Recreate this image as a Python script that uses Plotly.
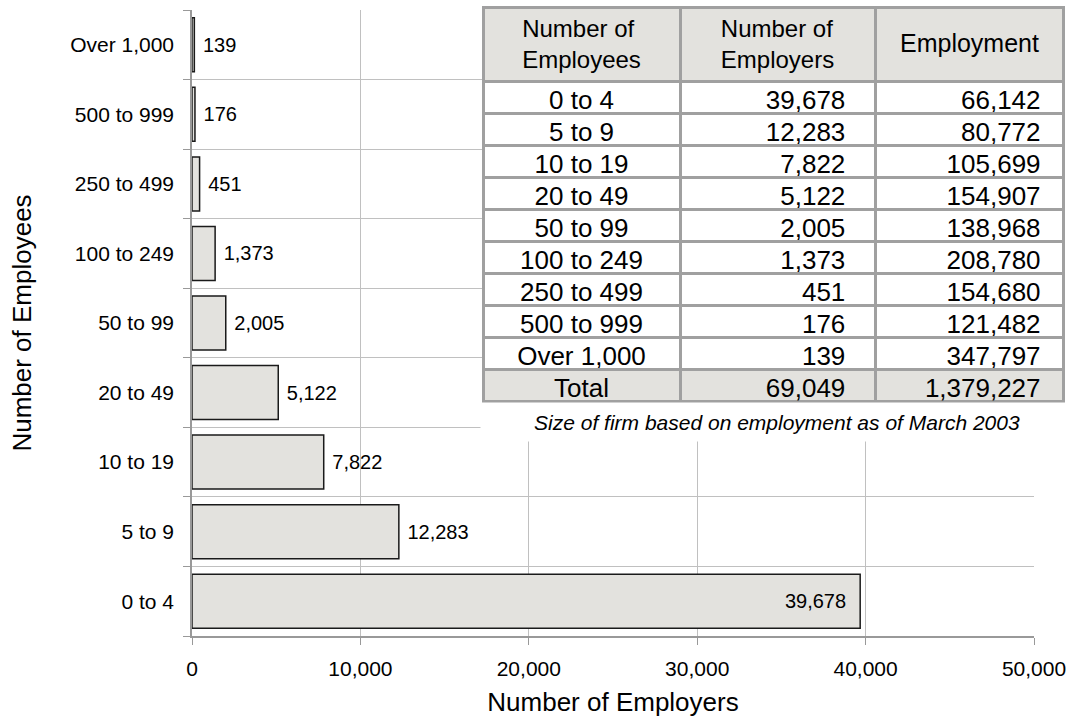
import plotly.graph_objects as go

# ---- data ----
categories = ["0 to 4", "5 to 9", "10 to 19", "20 to 49", "50 to 99",
              "100 to 249", "250 to 499", "500 to 999", "Over 1,000"]
employers = [39678, 12283, 7822, 5122, 2005, 1373, 451, 176, 139]
employment = [66142, 80772, 105699, 154907, 138968, 208780, 154680, 121482, 347797]
total_label = "Total"
total_employers = 69049
total_employment = 1379227
table_headers = ["Number of<br>Employees", "Number of<br>Employers", "Employment"]
x_ticks = [0, 10000, 20000, 30000, 40000, 50000]
caption = "Size of firm based on employment as of March 2003"

FONT = "Liberation Sans, Arial, sans-serif"
W, H = 1067, 717
BAR_FILL = "#E3E2DE"
NB = "\u00a0"

text_pos = ["inside" if v == max(employers) else "outside" for v in employers]

fig = go.Figure()
fig.add_trace(go.Bar(
    y=categories, x=employers, orientation="h",
    marker=dict(color=BAR_FILL, line=dict(color="#1a1a1a", width=1.5)),
    texttemplate=NB + "%{x:,}" + NB + NB, textposition=text_pos,
    insidetextanchor="end",
    insidetextfont=dict(color="black", size=20, family=FONT),
    outsidetextfont=dict(color="black", size=20, family=FONT),
    cliponaxis=False, showlegend=False, hoverinfo="skip",
))

# table
col1 = categories + [total_label]
col2 = [f"{v:,}" + NB * 3 for v in employers] + [f"{total_employers:,}" + NB * 3]
col3 = [f"{v:,}" + NB * 2 for v in employment] + [f"{total_employment:,}" + NB * 2]
n = len(col1)
fills = ["white"] * (n - 1) + [BAR_FILL]
# single-line header is drawn vertically centred (as in the original) via annotation
hdr = table_headers[:2] + [""]
fig.add_trace(go.Table(
    domain=dict(x=[483 / W, 1063 / W], y=[0.30, 1 - 7 / H]),
    columnwidth=[197, 195, 188],
    header=dict(values=hdr, height=66, align="center",
                fill=dict(color=BAR_FILL),
                line=dict(color="#A0A0A0", width=3),
                font=dict(family=FONT, size=24, color="black")),
    cells=dict(values=[col1, col2, col3], height=32,
               align=["center", "right", "right"],
               fill=dict(color=[fills, fills, fills]),
               line=dict(color="#A0A0A0", width=3),
               font=dict(family=FONT, size=26, color="black")),
))

fig.update_layout(
    width=W, height=H,
    margin=dict(l=0, r=0, t=0, b=0),
    paper_bgcolor="white", plot_bgcolor="white",
    font=dict(family=FONT, size=21, color="black"),
    bargap=0.224,
    xaxis=dict(
        domain=[192 / W, 1034 / W], range=[0, 50000],
        tickvals=x_ticks, tickformat=",", showgrid=True, gridcolor="#C0C0C0",
        ticks="outside", ticklen=7, tickcolor="#999", showline=True,
        linecolor="#999", linewidth=1.5, zeroline=False, automargin=False,
        ticklabelstandoff=6, tickfont=dict(size=21),
        title=dict(text="Number of Employers", font=dict(size=26), standoff=15),
    ),
    yaxis=dict(
        domain=[(H - 636) / H, (H - 10) / H], type="category",
        tickson="boundaries", showgrid=True, gridcolor="#C0C0C0",
        ticks="outside", ticklen=7, tickcolor="#999", showline=True,
        linecolor="#999", linewidth=1.5, automargin=False,
        ticklabelstandoff=12, tickfont=dict(size=21),
        title=dict(text="Number of Employees", font=dict(size=26), standoff=31),
    ),
    annotations=[
        dict(text=caption, xref="paper", yref="paper",
             x=777 / W, y=1 - 422 / H, showarrow=False,
             xanchor="center", yanchor="middle",
             width=590, height=36, bgcolor="white", align="center",
             font=dict(family=FONT, size=21, style="italic")),
        dict(text=table_headers[2], xref="paper", yref="paper",
             x=969 / W, y=1 - 43 / H, showarrow=False,
             xanchor="center", yanchor="middle",
             font=dict(family=FONT, size=25, color="black")),
    ],
)

fig.write_html("out.html", post_script="document.body.style.margin='0';",
               config={"displayModeBar": False})
